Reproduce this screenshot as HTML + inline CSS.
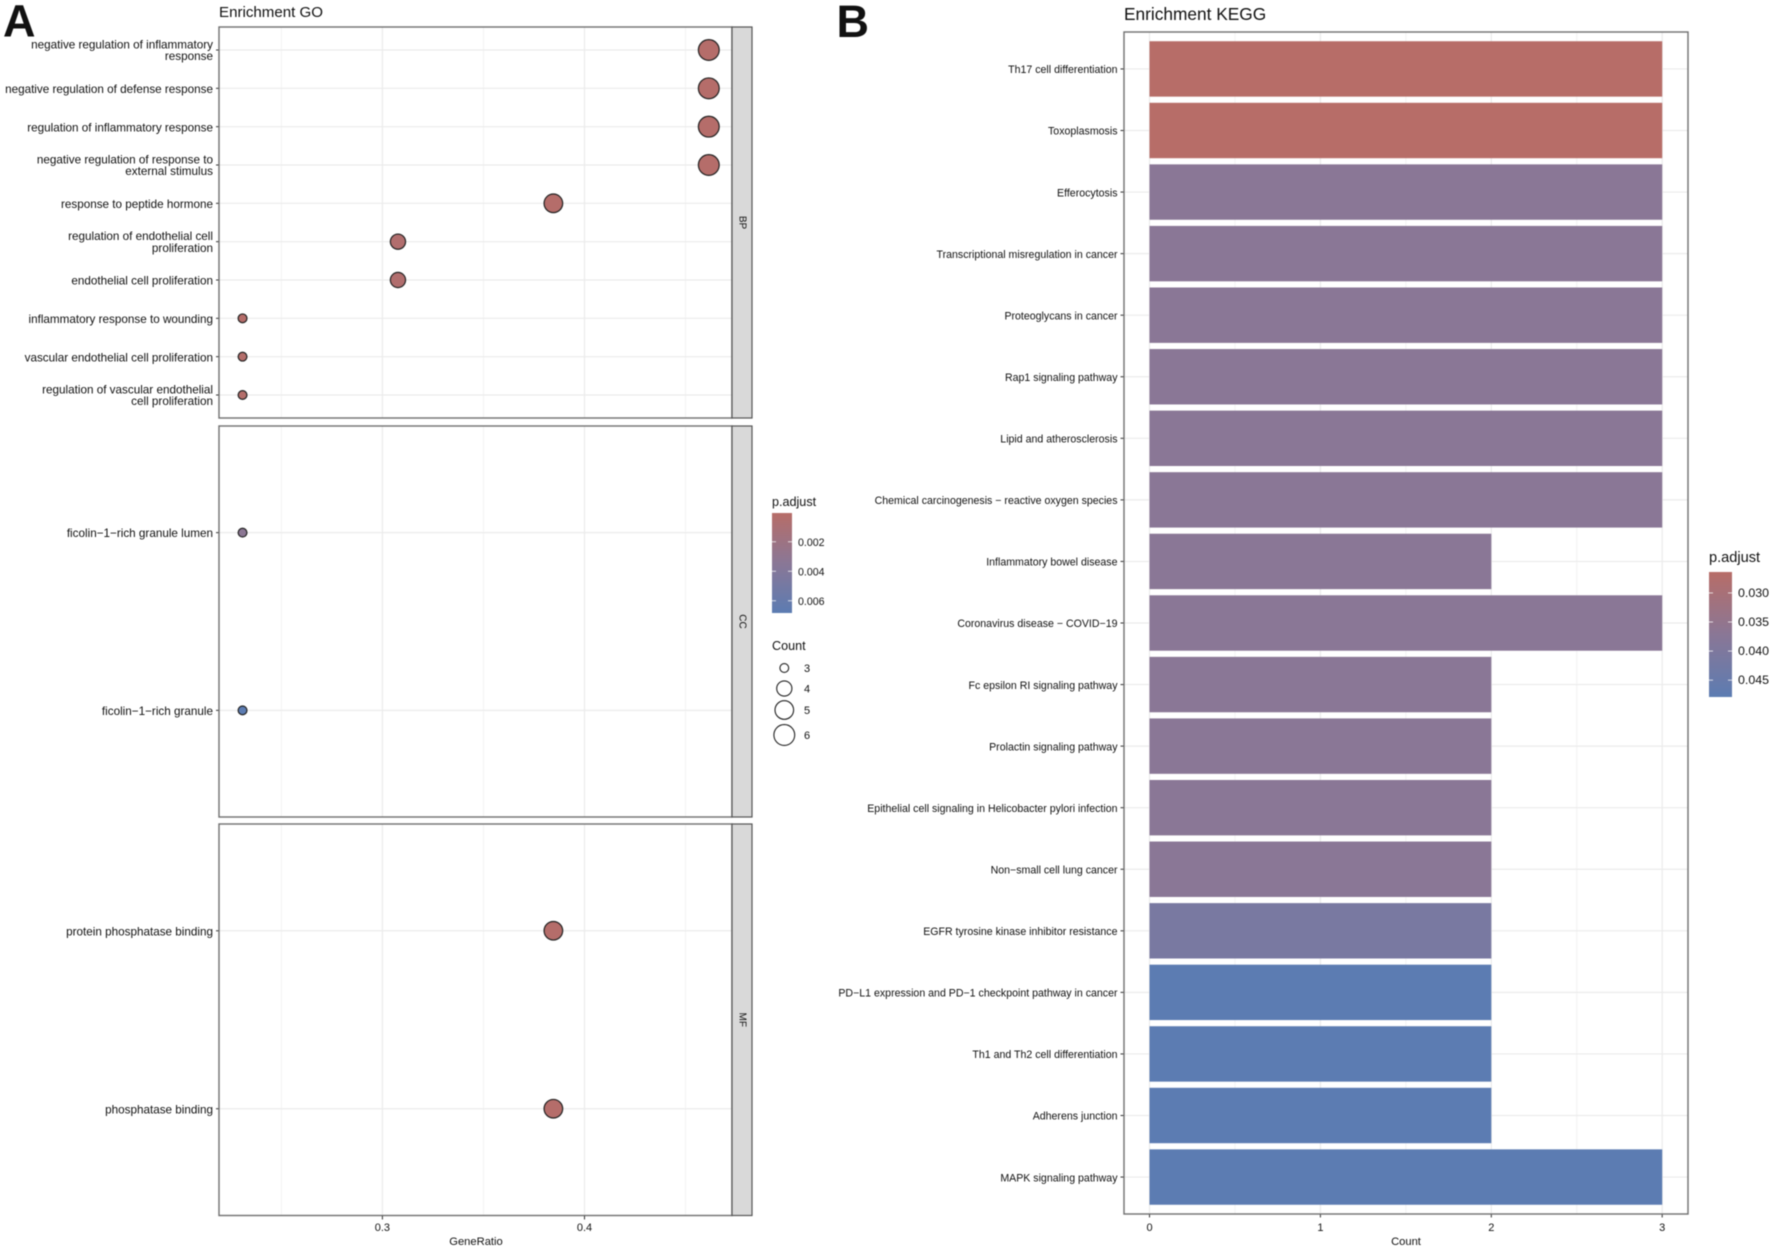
<!DOCTYPE html>
<html lang="en">
<head>
<meta charset="utf-8">
<title>Enrichment GO and KEGG</title>
<style>
html,body{margin:0;padding:0;background:#fff;width:1772px;height:1255px;overflow:hidden}
svg{display:block;filter:blur(0.4px)}
text{font-family:"Liberation Sans",Arial,sans-serif;fill:#111}
</style>
</head>
<body>
<svg id="fig" xmlns="http://www.w3.org/2000/svg" width="1772" height="1255" viewBox="0 0 1772 1255">
  <defs>
    <linearGradient id="bar-grad" x1="0" y1="0" x2="0" y2="1">
      <stop offset="0" stop-color="#b76d68"/>
      <stop offset="0.5" stop-color="#8a7796"/>
      <stop offset="1" stop-color="#5c7cb2"/>
    </linearGradient>
  </defs>
  <rect width="1772" height="1255" fill="#fff"/>
  <text x="3" y="36.5" font-size="45" font-weight="700" fill="#000">A</text>
  <text x="836.5" y="37" font-size="45" font-weight="700" fill="#000">B</text>
  <text x="219" y="17" font-size="15.1">Enrichment GO</text>
  <text x="1124" y="20" font-size="17.3">Enrichment KEGG</text>
  <g id="go"></g>
  <g id="kegg"></g>
  <text x="476" y="1245" font-size="11.2" text-anchor="middle">GeneRatio</text>
  <text x="1406" y="1245" font-size="11.2" text-anchor="middle">Count</text>
  <g id="legends"></g>
</svg>
<script>
// ---- GO dot plot data ----
const goPanels = ["BP", "CC", "MF"];
const goTermsBP = [
  "negative regulation of inflammatory\nresponse",
  "negative regulation of defense response",
  "regulation of inflammatory response",
  "negative regulation of response to\nexternal stimulus",
  "response to peptide hormone",
  "regulation of endothelial cell\nproliferation",
  "endothelial cell proliferation",
  "inflammatory response to wounding",
  "vascular endothelial cell proliferation",
  "regulation of vascular endothelial\ncell proliferation"
];
const goRatioBP = [0.4615, 0.4615, 0.4615, 0.4615, 0.3846, 0.3077, 0.3077, 0.2308, 0.2308, 0.2308];
const goCountBP = [6, 6, 6, 6, 5, 4, 4, 3, 3, 3];
const goPadjBP = [0.0002, 0.0002, 0.0002, 0.0002, 0.0002, 0.0005, 0.0005, 0.0002, 0.0003, 0.0003];
const goTermsCC = ["ficolin\u22121\u2212rich granule lumen", "ficolin\u22121\u2212rich granule"];
const goRatioCC = [0.2308, 0.2308];
const goCountCC = [3, 3];
const goPadjCC = [0.0033, 0.0068];
const goTermsMF = ["protein phosphatase binding", "phosphatase binding"];
const goRatioMF = [0.3846, 0.3846];
const goCountMF = [5, 5];
const goPadjMF = [0.0002, 0.0002];
const goXTicks = [0.3, 0.4];
const goXMinor = [0.25, 0.35, 0.45];
const goLegendP = [0.002, 0.004, 0.006];
const goLegendCount = [3, 4, 5, 6];

// ---- KEGG bar chart data ----
const keggTerms = [
  "Th17 cell differentiation",
  "Toxoplasmosis",
  "Efferocytosis",
  "Transcriptional misregulation in cancer",
  "Proteoglycans in cancer",
  "Rap1 signaling pathway",
  "Lipid and atherosclerosis",
  "Chemical carcinogenesis \u2212 reactive oxygen species",
  "Inflammatory bowel disease",
  "Coronavirus disease \u2212 COVID\u221219",
  "Fc epsilon RI signaling pathway",
  "Prolactin signaling pathway",
  "Epithelial cell signaling in Helicobacter pylori infection",
  "Non\u2212small cell lung cancer",
  "EGFR tyrosine kinase inhibitor resistance",
  "PD\u2212L1 expression and PD\u22121 checkpoint pathway in cancer",
  "Th1 and Th2 cell differentiation",
  "Adherens junction",
  "MAPK signaling pathway"
];
const keggCount = [3, 3, 3, 3, 3, 3, 3, 3, 2, 3, 2, 2, 2, 2, 2, 2, 2, 2, 3];
const keggPadj = [0.0265, 0.0265, 0.0372, 0.0372, 0.0372, 0.0372, 0.0372, 0.0372, 0.0372, 0.0372, 0.0372, 0.0372, 0.0372, 0.0372, 0.0412, 0.0478, 0.0478, 0.0478, 0.0478];
const keggXTicks = [0, 1, 2, 3];
const keggXMinor = [0.5, 1.5, 2.5];
const keggLegendP = [0.03, 0.035, 0.04, 0.045];

// ---- helpers ----
const NS = "http://www.w3.org/2000/svg";
function mk(parent, tag) {
  const el = document.createElementNS(NS, tag);
  parent.appendChild(el);
  return el;
}
function setA(el, o) {
  for (const k in o) el.setAttribute(k, o[k]);
  return el;
}
function slug(s) {
  return s.toLowerCase().replace(/[^a-z0-9]+/g, '-').replace(/^-|-$/g, '');
}
function mix(a, b, t) {
  return a.map((v, i) => Math.round(v + (b[i] - v) * t));
}
const cRed = [183, 109, 104], cMid = [138, 119, 150], cBlue = [92, 124, 178];
function colorAt(t) {
  t = Math.max(0, Math.min(1, t));
  const c = t < 0.5 ? mix(cRed, cMid, t * 2) : mix(cMid, cBlue, (t - 0.5) * 2);
  return `rgb(${c[0]},${c[1]},${c[2]})`;
}
const GRID = "#ebebeb", BORDER = "#6f6f6f", FS_GO = 11.7, FS_KEGG = 10.6;

// ---- GO plot ----
const goG = document.getElementById('go');
const goLeft = 219, goRight = 732, stripRight = 752;
const goBoxes = [[27, 418], [426, 817], [824, 1215.5]];
const goData = [
  [goTermsBP, goRatioBP, goCountBP, goPadjBP],
  [goTermsCC, goRatioCC, goCountCC, goPadjCC],
  [goTermsMF, goRatioMF, goCountMF, goPadjMF]
];
const goX = v => 382.4 + (v - 0.3) * 2021;
const goRadius = n => ({3: 4.4, 4: 7.6, 5: 9.3, 6: 10.4})[n] || (n * 2);
const goColor = p => colorAt((p - 0.00005) / (0.00683 - 0.00005));

goPanels.forEach((name, pi) => {
  const [top, bottom] = goBoxes[pi];
  const [terms, ratios, counts, padj] = goData[pi];
  const unit = (bottom - top) / (terms.length - 1 + 1.2);
  const goY = i => top + unit * (0.6 + i);
  const panel = mk(goG, 'g');
  
  
  goXMinor.forEach(v => {
    const l = mk(panel, 'line');
    
    
    setA(l, {x1: goX(v), x2: goX(v), y1: top, y2: bottom, stroke: '#f3f3f3', 'stroke-width': 1});
  });
  goXTicks.forEach(v => {
    const l = mk(panel, 'line');
    
    
    setA(l, {x1: goX(v), x2: goX(v), y1: top, y2: bottom, stroke: GRID, 'stroke-width': 1.2});
  });
  terms.forEach((term, i) => {
    const y = goY(i);
    const g = mk(panel, 'line');
    
    
    setA(g, {x1: goLeft, x2: goRight, y1: y, y2: y, stroke: GRID, 'stroke-width': 1.2});
    const t = mk(panel, 'line');
    
    
    setA(t, {x1: goLeft - 3, x2: goLeft, y1: y, y2: y, stroke: '#333', 'stroke-width': 1});
    const lines = term.split('\n');
    lines.forEach((ln, k) => {
      const tx = mk(panel, 'text');
      
      
      const dy = lines.length > 1 ? (k === 0 ? -1.5 : 10.2) : 4.6;
      setA(tx, {x: 213, y: y + dy, 'font-size': FS_GO, 'text-anchor': 'end'});
      tx.textContent = ln;
    });
    const c = mk(panel, 'circle');
    
    
    setA(c, {cx: goX(ratios[i]), cy: y, r: goRadius(counts[i]), fill: goColor(padj[i]), stroke: '#222', 'stroke-width': 1.2});
  });
  const b = mk(panel, 'rect');
  
  
  setA(b, {x: goLeft, y: top, width: goRight - goLeft, height: bottom - top, fill: 'none', stroke: BORDER, 'stroke-width': 1.4});
  const s = mk(panel, 'rect');
  
  
  setA(s, {x: goRight, y: top, width: stripRight - goRight, height: bottom - top, fill: '#d9d9d9', stroke: '#555', 'stroke-width': 1.2});
  const st = mk(panel, 'text');
  
  
  const sy = (top + bottom) / 2;
  setA(st, {x: 742, y: sy, 'font-size': 10, 'text-anchor': 'middle', 'dominant-baseline': 'central', transform: `rotate(90 742 ${sy})`});
  st.textContent = name;
});
goXTicks.forEach(v => {
  const t = mk(goG, 'line');
  
  
  setA(t, {x1: goX(v), x2: goX(v), y1: 1216, y2: 1219.5, stroke: '#333', 'stroke-width': 1});
  const l = mk(goG, 'text');
  
  
  setA(l, {x: goX(v), y: 1231, 'font-size': 11, 'text-anchor': 'middle'});
  l.textContent = v.toFixed(1);
});

// ---- KEGG plot ----
const kG = document.getElementById('kegg');
const kLeft = 1124, kRight = 1688, kTop = 32, kBottom = 1214;
const kUnit = (kBottom - kTop) / (keggTerms.length - 1 + 1.2);
const kY = i => kTop + kUnit * (0.6 + i);
const kX = v => 1149.5 + v * 170.9;
const kColor = p => colorAt((p - 0.0264) / (0.0479 - 0.0264));

keggXMinor.forEach(v => {
  const l = mk(kG, 'line');
  
  
  setA(l, {x1: kX(v), x2: kX(v), y1: kTop, y2: kBottom, stroke: '#f3f3f3', 'stroke-width': 1});
});
keggXTicks.forEach(v => {
  const l = mk(kG, 'line');
  
  
  setA(l, {x1: kX(v), x2: kX(v), y1: kTop, y2: kBottom, stroke: GRID, 'stroke-width': 1.2});
  const t = mk(kG, 'line');
  
  
  setA(t, {x1: kX(v), x2: kX(v), y1: kBottom, y2: kBottom + 3.5, stroke: '#333', 'stroke-width': 1});
  const tx = mk(kG, 'text');
  
  
  setA(tx, {x: kX(v), y: 1231, 'font-size': 11, 'text-anchor': 'middle'});
  tx.textContent = String(v);
});
keggTerms.forEach((term, i) => {
  const y = kY(i);
  const g = mk(kG, 'line');
  
  
  setA(g, {x1: kLeft, x2: kRight, y1: y, y2: y, stroke: GRID, 'stroke-width': 1.2});
  const t = mk(kG, 'line');
  
  
  setA(t, {x1: kLeft - 3.5, x2: kLeft, y1: y, y2: y, stroke: '#333', 'stroke-width': 1});
  const tx = mk(kG, 'text');
  
  
  setA(tx, {x: 1117.5, y: y + 4.2, 'font-size': FS_KEGG, 'text-anchor': 'end'});
  tx.textContent = term;
  const r = mk(kG, 'rect');
  
  
  const h = kUnit * 0.9;
  setA(r, {x: kX(0), y: y - h / 2, width: kX(keggCount[i]) - kX(0), height: h, fill: kColor(keggPadj[i])});
});
{
  const b = mk(kG, 'rect');
  
  
  setA(b, {x: kLeft, y: kTop, width: kRight - kLeft, height: kBottom - kTop, fill: 'none', stroke: BORDER, 'stroke-width': 1.4});
}

// ---- Legends ----
const lg = document.getElementById('legends');
function colorLegend(prefix, x, w, top, bottom, pTop, pBottom, ticks, digits, titleY, fs, titleFs) {
  const title = mk(lg, 'text');
  
  
  setA(title, {x: x, y: titleY, 'font-size': titleFs});
  title.textContent = 'p.adjust';
  const bar = mk(lg, 'rect');
  
  
  setA(bar, {x: x, y: top, width: w, height: bottom - top, fill: 'url(#bar-grad)'});
  ticks.forEach(v => {
    const y = top + (v - pTop) / (pBottom - pTop) * (bottom - top);
    [[x, x + 4], [x + w - 4, x + w]].forEach(seg => {
      const l = mk(lg, 'line');
      
      
      setA(l, {x1: seg[0], x2: seg[1], y1: y, y2: y, stroke: '#fff', 'stroke-opacity': 0.75, 'stroke-width': 1});
    });
    const t = mk(lg, 'text');
    
    
    setA(t, {x: x + w + 6, y: y + 4, 'font-size': fs});
    t.textContent = v.toFixed(digits);
  });
}
colorLegend('go', 772, 20, 513, 613, 0.00005, 0.00683, goLegendP, 3, 506, 10.6, 12.6);
colorLegend('kegg', 1709, 23, 572, 697, 0.0264, 0.0479, keggLegendP, 3, 562, 12.4, 14.6);

{
  const title = mk(lg, 'text');
  
  
  setA(title, {x: 772, y: 650, 'font-size': 12.6});
  title.textContent = 'Count';
  const keyY = [668, 688.5, 710, 735];
  goLegendCount.forEach((n, i) => {
    const c = mk(lg, 'circle');
    
    
    setA(c, {cx: 784.3, cy: keyY[i], r: goRadius(n), fill: '#fff', stroke: '#222', 'stroke-width': 1.1});
    const t = mk(lg, 'text');
    
    
    setA(t, {x: 804, y: keyY[i] + 4, 'font-size': 11});
    t.textContent = String(n);
  });
}
</script>
</body>
</html>
